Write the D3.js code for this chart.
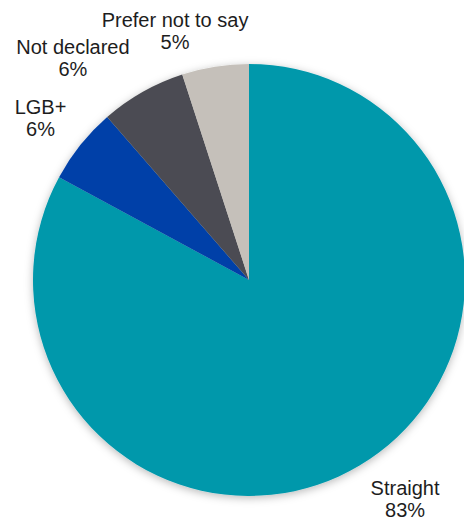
<!DOCTYPE html>
<html>
<head>
<meta charset="utf-8">
<script src="https://cdn.jsdelivr.net/npm/d3@7"></script>
<style>
    body { margin: 0; background: #ffffff; }
    svg { display: block; }
    .label { font-family: "Liberation Sans", Arial, sans-serif; font-size: 20px; fill: #1d1d1d; }
</style>
</head>
<body>
<script>

// Categories and shares (percent), clockwise from 12 o'clock
var categories = ["Straight", "LGB+", "Not declared", "Prefer not to say"];
var shares = [82.9, 5.7, 6.4, 5.0];
var shareLabels = ["83%", "6%", "6%", "5%"];
var colours = ["#0398ab", "#0041a8", "#4b4c52", "#c5c0ba"];

// Label shifts away from the plain outside position (like the original chart)
var labelNudge = [[22, -6], [-4, 2], [-47, 6], [-33, 10]];

window.onload = function() {
    drawPie();
};

function drawPie() {

    var svgWidth = 464;
    var svgHeight = 522;
    var centreX = 249;
    var centreY = 280;
    var radius = 216;
    var labelRadius = 262;

    const svg = d3.select("body").append("svg")
        .attr("width", svgWidth)
        .attr("height", svgHeight);

    // Soft shadow round the pie
    var filter = svg.append("defs").append("filter")
        .attr("id", "shadow")
        .attr("x", "-10%").attr("y", "-10%")
        .attr("width", "120%").attr("height", "120%");
    filter.append("feDropShadow")
        .attr("dx", 0)
        .attr("dy", 2)
        .attr("stdDeviation", 4)
        .attr("flood-color", "#000")
        .attr("flood-opacity", 0.28);

    const pie = svg.append("g")
        .attr("transform", `translate(${centreX}, ${centreY})`);

    var data = categories.map(function(name, i) {
        return { name: name, value: shares[i], label: shareLabels[i], index: i };
    });

    var layout = d3.pie()
        .sort(null)
        .value(function(d) { return d.value; })
        .startAngle(0)
        .endAngle(2 * Math.PI);

    var arc = d3.arc().innerRadius(0).outerRadius(radius);
    var labelArc = d3.arc().innerRadius(labelRadius).outerRadius(labelRadius);

    var arcs = layout(data);

    // Slices
    pie.append("g")
        .attr("filter", "url(#shadow)")
        .selectAll("path")
        .data(arcs)
        .enter()
        .append("path")
        .attr("d", arc)
        .attr("fill", function(d) { return colours[d.data.index]; });

    // Two line labels outside the slices
    var labels = pie.selectAll(".labelgroup")
        .data(arcs)
        .enter()
        .append("g")
        .attr("transform", function(d) {
            var c = labelArc.centroid(d);
            var n = labelNudge[d.data.index];
            return `translate(${c[0] + n[0]}, ${c[1] + n[1]})`;
        });

    labels.append("text")
        .attr("class", "label")
        .attr("text-anchor", "middle")
        .attr("y", -4.5)
        .text(function(d) { return d.data.name; });

    labels.append("text")
        .attr("class", "label")
        .attr("text-anchor", "middle")
        .attr("y", 18)
        .text(function(d) { return d.data.label; });
};

</script>
</body>
</html>
